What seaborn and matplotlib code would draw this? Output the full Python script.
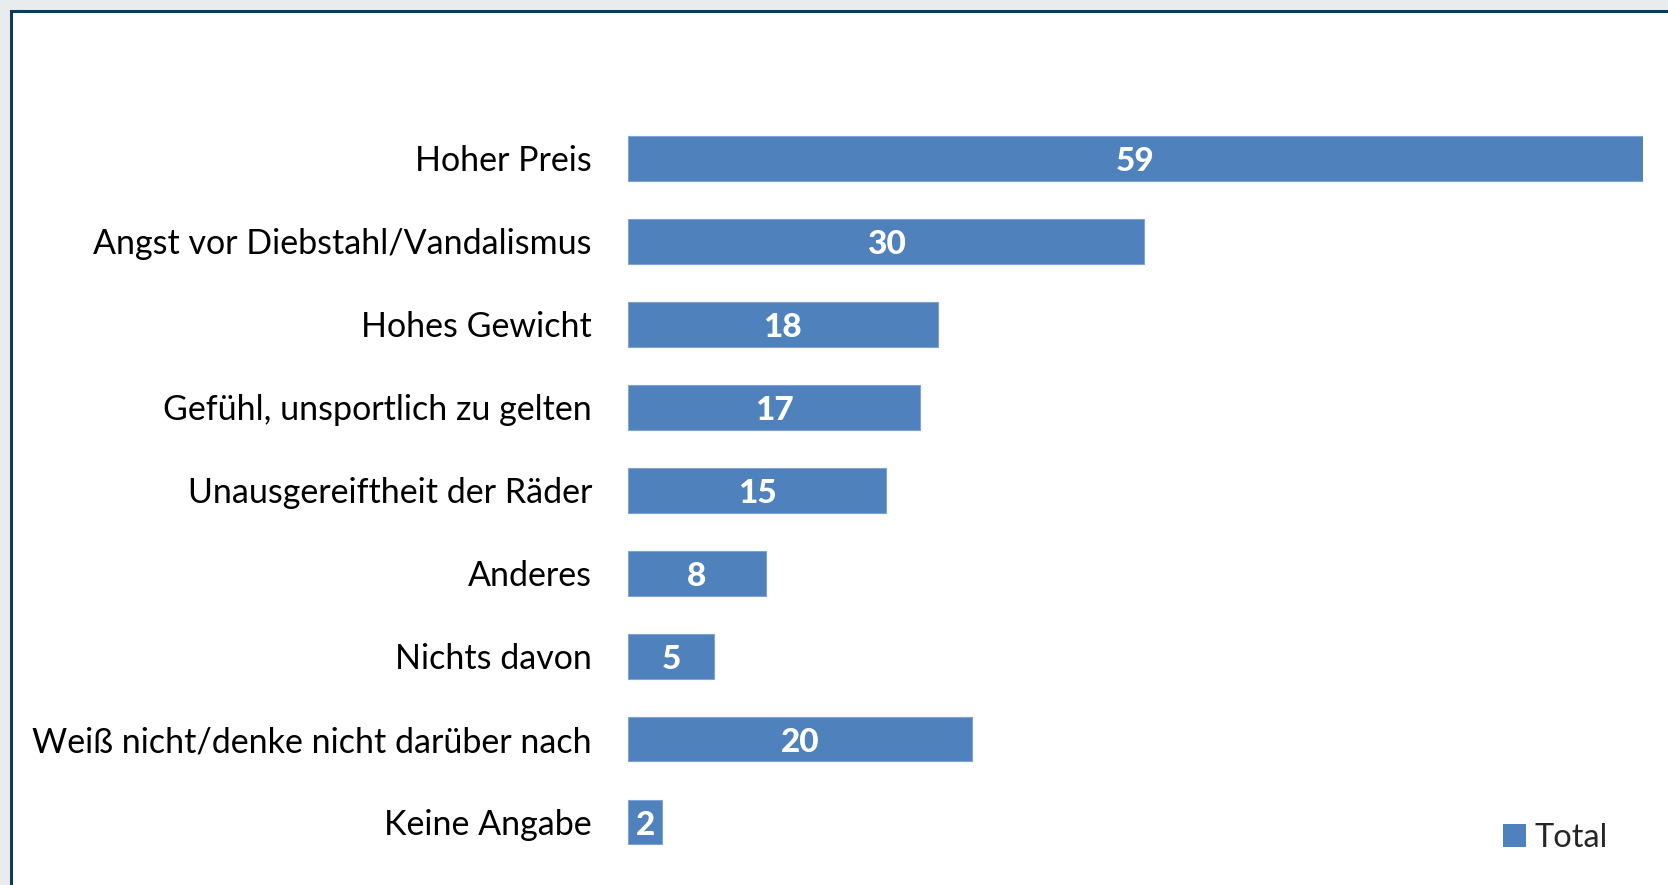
import matplotlib
matplotlib.use("Agg")
import matplotlib.pyplot as plt
from matplotlib.patches import Rectangle, Patch
import seaborn as sns
import pandas as pd

categories = ["Hoher Preis", "Angst vor Diebstahl/Vandalismus", "Hohes Gewicht",
              "Gefühl, unsportlich zu gelten", "Unausgereiftheit der Räder", "Anderes",
              "Nichts davon", "Weiß nicht/denke nicht darüber nach", "Keine Angabe"]
values = [59, 30, 18, 17, 15, 8, 5, 20, 2]
series_name = "Total"

BAR = "#4F81BD"
W, H = 1668, 885
sns.set_theme(style="white")
plt.rcParams['font.family'] = ['Lato', 'DejaVu Sans']

fig = plt.figure(figsize=(W / 100, H / 100), dpi=100)
fig.patch.set_facecolor("#E8ECEE")
fig.patches.append(Rectangle((11 / W, -0.1), 1.2, 1 - 11 / H + 0.1, transform=fig.transFigure,
                             facecolor="white", edgecolor="#0E3C58", linewidth=2.2, zorder=-10))

ax_left, ax_right = 628, 1643
ax_top, ax_bot = 117, 863.5
ax = fig.add_axes([ax_left / W, 1 - ax_bot / H, (ax_right - ax_left) / W, (ax_bot - ax_top) / H])
ax.set_facecolor("none")

df = pd.DataFrame({"cat": categories, "val": values})
sns.barplot(data=df, x="val", y="cat", orient="h", color=BAR, width=0.54, ax=ax,
            saturation=1, edgecolor="#7FA3D2", linewidth=0.8)
ax.set_xlim(0, 59)
ax.set_ylim(len(categories) - 0.5, -0.5)
ax.set_xlabel("")
ax.set_ylabel("")
ax.set_xticks([])
ax.tick_params(axis="y", length=0, pad=26, labelsize=24.5, labelcolor="black")
for s in ax.spines.values():
    s.set_visible(False)

for c in ax.containers:
    texts = ax.bar_label(c, labels=[str(v) for v in values], label_type="center", color="white",
                         fontsize=24, fontweight="black", padding=0)
    for t in texts:
        t.xyann = (0, -2.5)

leg = fig.legend(handles=[Patch(facecolor=BAR, edgecolor="none", label=series_name)],
                 loc="center left", bbox_to_anchor=(1474 / W, 1 - 838 / H), frameon=False,
                 fontsize=23.5, handlelength=0.7, handleheight=0.7, handletextpad=0.25)

fig.savefig("out.png", dpi=100, facecolor=fig.get_facecolor())
